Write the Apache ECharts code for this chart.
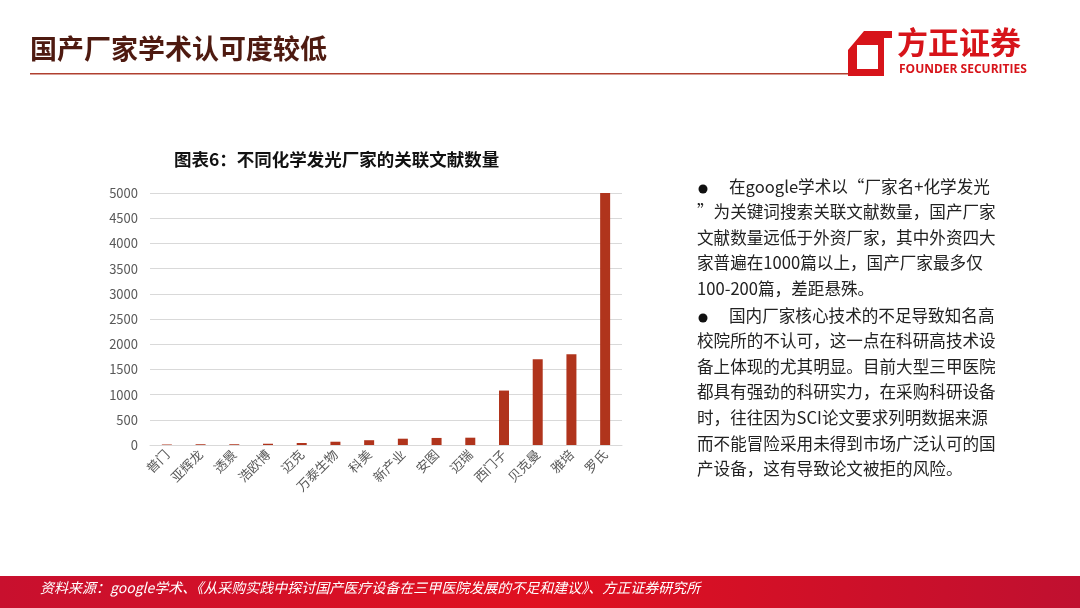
<!DOCTYPE html>
<html><head><meta charset="utf-8">
<script src="https://cdn.jsdelivr.net/npm/echarts@6/dist/echarts.min.js"></script>
<style>html,body{margin:0;padding:0;background:#fff;}#c{width:1080px;height:608px;}</style>
</head><body><div id="c"></div>
<script>
const categories = ['普门','亚辉龙','透景','浩欧博','迈克','万泰生物','科美','新产业','安图','迈瑞','西门子','贝克曼','雅培','罗氏'];
const values = [10, 15, 15, 25, 40, 65, 95, 125, 140, 145, 1080, 1700, 1800, 5000];
const yTicks = [0, 500, 1000, 1500, 2000, 2500, 3000, 3500, 4000, 4500, 5000];
const pageTitle = '国产厂家学术认可度较低';
const chartTitle = '图表6：不同化学发光厂家的关联文献数量';
const para1 = ['在google学术以“厂家名+化学发光', '”为关键词搜索关联文献数量，国产厂家', '文献数量远低于外资厂家，其中外资四大', '家普遍在1000篇以上，国产厂家最多仅', '100-200篇，差距悬殊。'];
const para2 = ['国内厂家核心技术的不足导致知名高', '校院所的不认可，这一点在科研高技术设', '备上体现的尤其明显。目前大型三甲医院', '都具有强劲的科研实力，在采购科研设备', '时，往往因为SCI论文要求列明数据来源', '而不能冒险采用未得到市场广泛认可的国', '产设备，这有导致论文被拒的风险。'];
const sourceText = '资料来源：google学术、《从采购实践中探讨国产医疗设备在三甲医院发展的不足和建议》、方正证券研究所';

const font = '"Noto Sans CJK SC", "Noto Sans", sans-serif';
const chart = echarts.init(document.getElementById('c'));
const textEls = [];
const lh = 25.6;
const tf = '16.6px ' + font;
para1.forEach((t, i) => textEls.push({type:'text', left: i === 0 ? 729 : 697, top: 178 + i*lh, style:{text:t, font:tf, fill:'#222'}}));
para2.forEach((t, i) => textEls.push({type:'text', left: i === 0 ? 729 : 697, top: 307 + i*lh, style:{text:t, font:tf, fill:'#222'}}));
textEls.push({type:'circle', shape:{cx:703, cy:189, r:4.5}, style:{fill:'#111'}});
textEls.push({type:'circle', shape:{cx:703, cy:318, r:4.5}, style:{fill:'#111'}});

chart.setOption({
  animation: false,
  backgroundColor: '#fff',
  title: {text: chartTitle, left: 169, top: 146, textStyle:{fontFamily: font, fontSize: 17.5, fontWeight:'bold', color:'#111'}},
  grid: {left: 150, right: 458, top: 193, bottom: 163},
  xAxis: {
    type: 'category', data: categories,
    axisLine: {lineStyle:{color:'#d9d9d9'}}, axisTick: {show:false},
    axisLabel: {rotate: 45, interval: 0, fontFamily: font, fontSize: 13, color:'#595959', margin: 7}
  },
  yAxis: {
    type: 'value', min: yTicks[0], max: yTicks[yTicks.length-1], interval: 500,
    axisLine:{show:false}, axisTick:{show:false},
    axisLabel:{fontFamily: font, fontSize: 13, color:'#595959', margin: 12, formatter: v => String(v)},
    splitLine:{lineStyle:{color:'#d9d9d9'}}
  },
  series: [{type:'bar', data: values, barWidth: 10, itemStyle:{color:'#b0341c'}}],
  graphic: [
    {type:'text', left: 30, top: 35, style:{text: pageTitle, font:'bold 27px ' + font, fill:'#4e1a10'}},
    {type:'rect', shape:{x:30, y:73, width:818, height:1.5}, style:{fill:'#b04030'}},
    {type:'polygon', shape:{points:[[864,31],[892,31],[892,38],[884,38],[884,76],[848,76],[848,50]]}, style:{fill:'#d7141a'}},
    {type:'rect', shape:{x:857, y:45, width:21, height:24}, style:{fill:'#fff'}},
    {type:'text', left: 897, top: 27, style:{text:'方正证券', font:'bold 31px ' + font, fill:'#d7141a'}},
    {type:'text', left: 899, top: 64, style:{text:'FOUNDER SECURITIES', font:'bold 12px "Open Sans", sans-serif', fill:'#d7141a'}},
    {type:'rect', shape:{x:0, y:576, width:1080, height:32}, style:{fill: new echarts.graphic.LinearGradient(0,0,1,0,[{offset:0,color:'#c8102e'},{offset:0.5,color:'#e01020'},{offset:1,color:'#c01030'}])}},
    {type:'text', left: 40, top: 581, style:{text: sourceText, font:'italic 14px ' + font, fill:'#fff'}}
  ].concat(textEls)
});
</script></body></html>
